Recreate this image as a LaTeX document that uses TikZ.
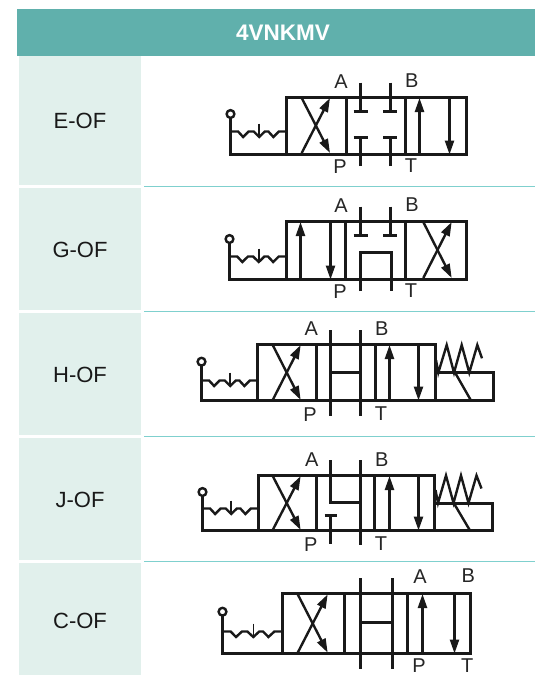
\documentclass[tikz,border=0pt]{standalone}
\usepackage{fontspec}
\setmainfont{Liberation Sans}
\usetikzlibrary{arrows.meta}
\definecolor{headteal}{HTML}{60B0AC}
\definecolor{cellgreen}{HTML}{E1F0EC}
\definecolor{ruleteal}{HTML}{7FD0CE}
\tikzset{
  x=1pt,y=-1pt,
  sym/.style={draw=black!90,line width=2.4pt,line cap=butt,line join=miter},
  flow/.style={sym,-{Stealth[length=14pt,width=9pt,inset=0pt]}},
  port/.style={font=\fontsize{20}{20}\selectfont,text=black!85,inner sep=0pt},
  rowlabel/.style={font=\fontsize{22}{22}\selectfont,text=black!90,inner sep=0pt},
  cell/.style={fill=cellgreen,draw=none},
  rulel/.style={draw=ruleteal,line width=1.6pt},
}
% lever: circle x, circle y, wave y, bottom y, box left x
\newcommand{\lever}[5]{%
  \pgfmathsetmacro{\lw}{(#5-#1)/55.5}%
  \draw[sym] (#1,#2) circle[radius=3.9pt];
  \draw[sym] (#1,#2+3.9) -- (#1,#4) -- (#5,#4);
  \begin{scope}[shift={(#1,#3)},xscale=\lw]
    \draw[sym] (0,0) -- (7.5,0) -- (12.5,5.5) -- (18,0) -- (23,0) -- (28.5,5.5) -- (34,0) -- (37.5,0) -- (42.5,5.5) -- (48,0) -- (55.5,0);
    \draw[sym,line width=1.6pt] (28.5,-8) -- (28.5,3);
  \end{scope}
}
% X cell
\newcommand{\crossx}[4]{%
  \draw[flow] (#1,#3) -- (#2,#4);
  \draw[flow] (#1,#4) -- (#2,#3);
}
\begin{document}
\begin{tikzpicture}
\useasboundingbox (0,0) rectangle (535,675);
\fill[white] (0,0) rectangle (535,675);
% header
\fill[headteal] (17,9) rectangle (535,56);
\node[font=\bfseries\fontsize{22.5}{22.5}\selectfont,text=white,inner sep=0pt] (head) at (283,33) {4VNKMV};
% cells
\fill[cell] (19,56) rectangle (141,185);
\fill[cell] (19,188) rectangle (141,310);
\fill[cell] (19,313) rectangle (141,435);
\fill[cell] (19,438) rectangle (141,560);
\fill[cell] (19,563) rectangle (141,675);
\node[rowlabel] (lE) at (80,121) {E-OF};
\node[rowlabel] (lG) at (80,250) {G-OF};
\node[rowlabel] (lH) at (80,375) {H-OF};
\node[rowlabel] (lJ) at (80,500) {J-OF};
\node[rowlabel] (lC) at (80,621) {C-OF};
% rules
\draw[rulel] (144,186.5) -- (535,186.5);
\draw[rulel] (144,311.5) -- (535,311.5);
\draw[rulel] (144,436.5) -- (535,436.5);
\draw[rulel] (144,561.5) -- (535,561.5);

% ---- E-OF
\lever{230.5}{114}{131.5}{154.5}{286.5}
\draw[sym] (286.5,97.5) rectangle (466.5,154.5);
\draw[sym] (346.5,97.5) -- (346.5,154.5) (405.5,97.5) -- (405.5,154.5);
\crossx{301.7}{330}{98}{153}
\draw[sym] (360.5,82.7) -- (360.5,111.5) (353.7,111.5) -- (367.7,111.5);
\draw[sym] (390.5,82.7) -- (390.5,111.5) (383,111.5) -- (397,111.5);
\draw[sym] (360.5,166) -- (360.5,137.5) (353.7,137.5) -- (367.7,137.5);
\draw[sym] (390.5,166) -- (390.5,137.5) (383,137.5) -- (397,137.5);
\draw[flow] (419.5,154.5) -- (419.5,98);
\draw[flow] (449.5,97.5) -- (449.5,154.5);
\node[port] (Ea) at (341,82) {A};
\node[port] (Eb) at (411.7,81) {B};
\node[port] (Ep) at (340,167) {P};
\node[port] (Et) at (411,166) {T};

% ---- G-OF
\lever{229.5}{239}{256.5}{279.5}{286.5}
\draw[sym] (286.5,221.5) rectangle (466.5,279.5);
\draw[sym] (345.5,221.5) -- (345.5,279.5) (405.5,221.5) -- (405.5,279.5);
\draw[flow] (300.5,279.5) -- (300.5,222);
\draw[flow] (330.5,221.5) -- (330.5,279.5);
\draw[sym] (360.5,206.7) -- (360.5,235.5) (353.7,235.5) -- (367.7,235.5);
\draw[sym] (390.5,206.7) -- (390.5,235.5) (383,235.5) -- (397,235.5);
\draw[sym] (360.5,291) -- (360.5,252.5) -- (391.5,252.5) -- (391.5,291);
\crossx{423.3}{451.7}{222}{278}
\node[port] (Ga) at (341,206) {A};
\node[port] (Gb) at (412,205) {B};
\node[port] (Gp) at (340,292) {P};
\node[port] (Gt) at (411,291) {T};

% ---- H-OF
\lever{201.5}{361.7}{380.5}{400.5}{257.5}
\draw[sym] (257.5,344.5) rectangle (435.5,400.5);
\draw[sym] (316.5,344.5) -- (316.5,400.5) (375.5,344.5) -- (375.5,400.5);
\crossx{272.7}{300.7}{345}{400}
\draw[sym] (330.5,330) -- (330.5,415.7) (360.5,330) -- (360.5,415.7) (330.5,372.5) -- (360.5,372.5);
\draw[flow] (389.5,400.5) -- (389.5,345);
\draw[flow] (418.5,344.5) -- (418.5,400.5);
\draw[sym] (435.5,372.5) -- (493.5,372.5) -- (493.5,400.5) -- (435.5,400.5);
\draw[sym] (455,372.5) -- (471,400.5);
\draw[sym] (436,360) -- (438.3,372.7) -- (446.7,345) -- (454,372.7) -- (461.7,345) -- (469.3,372.7) -- (477.3,345) -- (482,358.3);
\node[port] (Ha) at (311.3,328.5) {A};
\node[port] (Hb) at (381.7,328.5) {B};
\node[port] (Hp) at (310,414.5) {P};
\node[port] (Ht) at (381,413.5) {T};

% ---- J-OF
\lever{202.5}{492}{508.5}{530.5}{258.5}
\draw[sym] (258.5,475.5) rectangle (434.5,530.5);
\draw[sym] (316.5,475.5) -- (316.5,530.5) (374.5,475.5) -- (374.5,530.5);
\crossx{272.7}{300.7}{476}{530}
\draw[sym] (330.5,460.3) -- (330.5,502.5) -- (360.5,502.5);
\draw[sym] (360.5,460.3) -- (360.5,545.3);
\draw[sym] (330.5,543.7) -- (330.5,515.5) (324.5,515.5) -- (337.3,515.5);
\draw[flow] (389.5,530.5) -- (389.5,476);
\draw[flow] (418.5,475.5) -- (418.5,530.5);
\draw[sym] (434.5,503.5) -- (492.5,503.5) -- (492.5,530.5) -- (434.5,530.5);
\draw[sym] (454,503.5) -- (470,530.5);
\draw[sym] (435.5,490) -- (438,503) -- (446,475.5) -- (453.5,503) -- (461,475.5) -- (468.5,503) -- (476.5,475.5) -- (481.5,488.5);
\node[port] (Ja) at (311.7,460) {A};
\node[port] (Jb) at (381.7,459.5) {B};
\node[port] (Jp) at (310.7,544.5) {P};
\node[port] (Jt) at (381,544) {T};

% ---- C-OF
\lever{222.5}{611.7}{631.5}{653.5}{282.5}
\draw[sym] (282.5,593.5) rectangle (470.5,653.5);
\draw[sym] (344.5,593.5) -- (344.5,653.5) (407.5,593.5) -- (407.5,653.5);
\crossx{297.7}{327.7}{594.3}{652.7}
\draw[sym] (360.5,578.3) -- (360.5,669) (392.5,578.3) -- (392.5,669) (360.5,622.5) -- (392.5,622.5);
\draw[flow] (422.5,653.5) -- (422.5,594);
\draw[flow] (454.5,593.5) -- (454.5,653.5);
\node[port] (Ca) at (420,577) {A};
\node[port] (Cb) at (468.3,576) {B};
\node[port] (Cp) at (419,666) {P};
\node[port] (Ct) at (467.3,666) {T};
\end{tikzpicture}
\end{document}
